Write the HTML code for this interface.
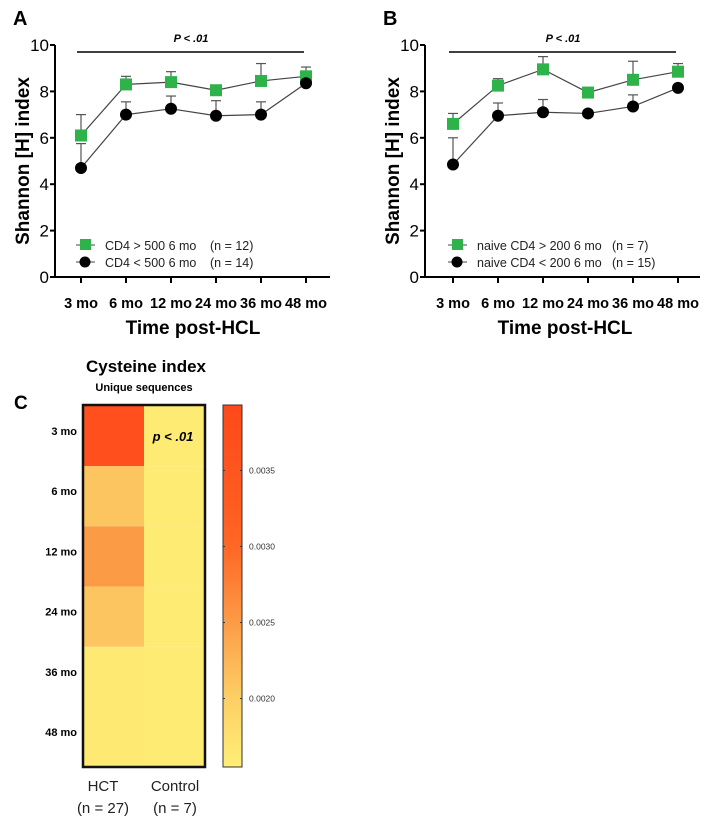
<!DOCTYPE html>
<html><head><meta charset="utf-8"><style>
body{margin:0;background:#fff;width:720px;height:823px;overflow:hidden}
svg{font-family:"Liberation Sans",sans-serif}
</style></head><body>
<svg id="s" width="720" height="823" xmlns="http://www.w3.org/2000/svg"></svg>
<script>
const categories=["3 mo","6 mo","12 mo","24 mo","36 mo","48 mo"];
const yTicks=[0,2,4,6,8,10];
const aGreen=[6.1,8.3,8.4,8.05,8.45,8.65];
const aGreenErr=[7.0,8.65,8.85,8.1,9.2,9.05];
const aBlack=[4.7,7.0,7.25,6.95,7.0,8.35];
const aBlackErr=[5.75,7.55,7.8,7.6,7.55,8.4];
const bGreen=[6.6,8.25,8.95,7.95,8.5,8.85];
const bGreenErr=[7.05,8.55,9.5,8.0,9.3,9.2];
const bBlack=[4.85,6.95,7.1,7.05,7.35,8.15];
const bBlackErr=[6.0,7.5,7.65,7.1,7.85,8.2];
const heatRows=["3 mo","6 mo","12 mo","24 mo","36 mo","48 mo"];
const heatCols=["HCT","Control"];
const heatHCT=[0.0037,0.0021,0.0025,0.0021,0.00162,0.00162];
const heatControl=[0.0016,0.0016,0.0016,0.0016,0.0016,0.0016];
const cbTicks=[0.0020,0.0025,0.0030,0.0035];

const S=document.getElementById('s');const NS="http://www.w3.org/2000/svg";
function mk(t,a,p,txt){const e=document.createElementNS(NS,t);for(const k in a)e.setAttribute(k,a[k]);if(txt!==undefined)e.textContent=txt;(p||S).appendChild(e);return e;}

function panel(ox,x0,letter,g,ge,b,be,l1,n1,l2,n2,nx){
 const G=mk('g',{});
 const y=v=>277-v*23.2, x=i=>x0+i*45;
 mk('text',{x:ox-42,y:25,'font-size':20,'font-weight':'bold'},G,letter);
 mk('line',{x1:ox,y1:45,x2:ox,y2:277,stroke:'#000','stroke-width':2},G);
 mk('line',{x1:ox,y1:277,x2:ox+275,y2:277,stroke:'#000','stroke-width':2},G);
 yTicks.forEach(t=>{mk('line',{x1:ox-5,y1:y(t),x2:ox,y2:y(t),stroke:'#000','stroke-width':2},G);
  const e=mk('text',{x:ox-6,y:y(t)+6,'font-size':17,'text-anchor':'end'},G,t);});
 categories.forEach((c,i)=>{mk('line',{x1:x(i),y1:277,x2:x(i),y2:283,stroke:'#000','stroke-width':2},G);
  const e=mk('text',{x:x(i),y:308,'font-size':14.5,'font-weight':'bold','text-anchor':'middle'},G,c);});
 const yt=mk('text',{transform:`translate(${ox-26},161) rotate(-90)`,'font-size':19,'font-weight':'bold','text-anchor':'middle'},G,'Shannon [H] index');
 const xt=mk('text',{x:x0+112,y:334,'font-size':19,'font-weight':'bold','text-anchor':'middle'},G,'Time post-HCL');
 mk('line',{x1:x0-4,y1:52,x2:x(5)-2,y2:52,stroke:'#000','stroke-width':1.5},G);
 mk('text',{x:x0+110,y:42,'font-size':11,'font-weight':'bold','font-style':'italic','text-anchor':'middle'},G,'P < .01');
 [[g,ge,'green'],[b,be,'black']].forEach(([v,e,nm])=>{
  v.forEach((d,i)=>{if(e[i]>d+0.08){mk('line',{x1:x(i),y1:y(d),x2:x(i),y2:y(e[i]),stroke:'#555','stroke-width':1.2},G);mk('line',{x1:x(i)-5,y1:y(e[i]),x2:x(i)+5,y2:y(e[i]),stroke:'#555','stroke-width':1.2},G);}});
  const pl=mk('polyline',{points:v.map((d,i)=>x(i)+','+y(d)).join(' '),fill:'none',stroke:'#444','stroke-width':1.2},G);
 });
 g.forEach((d,i)=>{const r=mk('rect',{x:x(i)-6,y:y(d)-6,width:12,height:12,fill:'#2db34a'},G);});
 b.forEach((d,i)=>{const c=mk('circle',{cx:x(i),cy:y(d),r:6,fill:'#000'},G);});
 const L=mk('g',{},G);
 mk('line',{x1:x0-5,y1:245,x2:x0+14,y2:245,stroke:'#444'},L);mk('rect',{x:x0-1,y:239,width:11,height:11,fill:'#2db34a'},L);
 mk('line',{x1:x0-5,y1:262,x2:x0+14,y2:262,stroke:'#444'},L);mk('circle',{cx:x0+4,cy:262,r:5.5,fill:'#000'},L);
 mk('text',{x:x0+24,y:250,'font-size':12.5,fill:'#222'},L,l1);mk('text',{x:nx,y:250,'font-size':12.5,fill:'#222'},L,n1);
 mk('text',{x:x0+24,y:267,'font-size':12.5,fill:'#222'},L,l2);mk('text',{x:nx,y:267,'font-size':12.5,fill:'#222'},L,n2);
}
panel(55,81,'A',aGreen,aGreenErr,aBlack,aBlackErr,'CD4 > 500 6  mo','(n = 12)','CD4 < 500 6  mo','(n = 14)',210);
panel(425,453,'B',bGreen,bGreenErr,bBlack,bBlackErr,'naive CD4 > 200 6 mo','(n = 7)','naive CD4 < 200 6 mo','(n = 15)',612);

// heatmap
const vmin=0.00155,vmax=0.00393;
function col(v){const t=Math.max(0,Math.min(1,(v-vmin)/(vmax-vmin)));
 const stops=[[0,[254,238,118]],[0.2,[253,205,100]],[0.4,[252,155,70]],[0.62,[255,100,35]],[1,[255,72,26]]];
 for(let i=1;i<stops.length;i++){if(t<=stops[i][0]){const[a,ca]=stops[i-1],[bb,cb]=stops[i];const f=(t-a)/(bb-a);return 'rgb('+ca.map((c,k)=>Math.round(c+(cb[k]-c)*f)).join(',')+')';}}}
const H=mk('g',{});
mk('text',{x:14,y:409,'font-size':19,'font-weight':'bold'},H,'C');
mk('text',{x:146,y:372,'font-size':17,'font-weight':'bold','text-anchor':'middle'},H,'Cysteine index');
mk('text',{x:144,y:391,'font-size':11,'font-weight':'bold','text-anchor':'middle'},H,'Unique sequences');
const hx0=84,hw=60,hy0=406,rh=60.2;
[heatHCT,heatControl].forEach((arr,c)=>arr.forEach((v,r)=>{const e=mk('rect',{x:hx0+c*hw,y:hy0+r*rh,width:hw,height:rh,fill:col(v)},H);}));
mk('rect',{x:83,y:405,width:122,height:362,fill:'none',stroke:'#111','stroke-width':2.5},H);
heatRows.forEach((r,i)=>{const e=mk('text',{x:77,y:hy0+i*rh+29,'font-size':11,'font-weight':'bold','text-anchor':'end'},H,r);});
mk('text',{x:173,y:441,'font-size':13,'font-weight':'bold','font-style':'italic','text-anchor':'middle'},H,'p < .01');
[['HCT','(n = 27)',103],['Control','(n = 7)',175]].forEach(([a,b,xx])=>{mk('text',{x:xx,y:791,'font-size':15,fill:'#222','text-anchor':'middle'},H,a);mk('text',{x:xx,y:813,'font-size':15,fill:'#222','text-anchor':'middle'},H,b);});
const defs=mk('defs',{});const lg=mk('linearGradient',{id:'cb',x1:0,y1:1,x2:0,y2:0},defs);
for(let i=0;i<=20;i++){mk('stop',{offset:i/20,'stop-color':col(vmin+(vmax-vmin)*i/20)},lg);}
const cy=v=>767-(v-vmin)/(vmax-vmin)*362;
mk('rect',{x:223,y:405,width:19,height:362,fill:'url(#cb)',stroke:'#333','stroke-width':1},H);
cbTicks.forEach(t=>{mk('line',{x1:223,y1:cy(t),x2:225,y2:cy(t),stroke:'#333'},H);mk('line',{x1:240,y1:cy(t),x2:242,y2:cy(t),stroke:'#333'},H);
 const e=mk('text',{x:249,y:cy(t)+3,'font-size':8.5,fill:'#333'},H,t.toFixed(4));});
</script>
</body></html>
